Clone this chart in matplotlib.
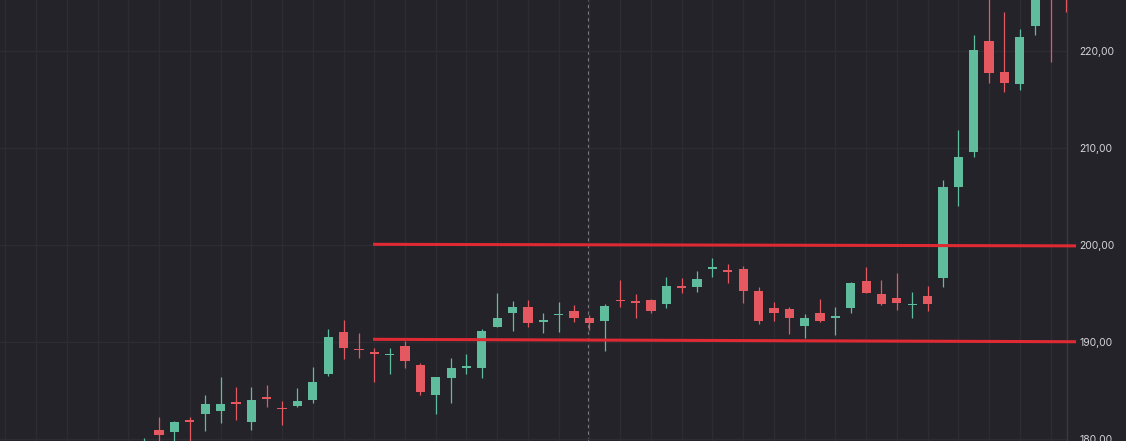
import matplotlib
matplotlib.use('Agg')
import matplotlib.pyplot as plt
import numpy as np
from matplotlib.ticker import FuncFormatter

# candle index -1 .. 59
opens = [179.0, 180.97, 180.79, 181.9, 182.58, 182.92, 183.88, 181.82, 184.36, 183.23,
         183.44, 184.05, 186.73, 191.08, 189.25, 189.02, 188.68, 189.64, 187.65, 184.57,
         186.32, 187.4, 187.38, 191.59, 192.97, 193.59, 192.13, 192.8, 193.21, 192.52,
         192.18, 194.34, 194.24, 194.34, 193.93, 195.83, 195.71, 197.58, 197.43, 197.53,
         195.27, 193.55, 193.42, 191.7, 192.97, 192.54, 193.55, 196.3, 194.96, 194.52,
         193.78, 194.75, 196.57, 206.0, 209.54, 221.02, 217.83, 216.56, 222.53, 228.0,
         228.0]
highs = [180.15, 182.26, 181.9, 182.26, 184.57, 186.45, 185.42, 185.42, 185.6, 183.98,
         185.26, 187.48, 191.33, 192.28, 190.98, 189.37, 189.37, 190.15, 187.83, 186.45,
         188.34, 188.79, 191.33, 195.03, 194.27, 194.34, 192.97, 194.1, 193.83, 192.8,
         193.93, 196.4, 194.93, 194.41, 196.74, 196.64, 197.36, 198.63, 198.01, 197.87,
         195.71, 194.17, 193.65, 192.9, 194.41, 193.59, 196.22, 197.77, 196.4, 197.09,
         195.2, 195.78, 206.69, 211.83, 221.6, 226.5, 224.0, 222.19, 228.0, 229.0,
         229.0]
lows = [178.5, 179.6, 179.7, 179.5, 180.86, 181.66, 182.0, 180.97, 183.3, 181.48,
        183.3, 183.78, 186.55, 188.24, 188.34, 185.94, 186.7, 187.31, 184.57, 182.58,
        183.71, 186.7, 186.35, 191.59, 191.15, 191.59, 190.92, 191.08, 192.11, 191.26,
        189.13, 193.65, 192.52, 192.97, 193.49, 195.03, 195.2, 196.74, 196.06, 194.0,
        191.87, 192.18, 190.84, 190.4, 192.11, 190.74, 192.97, 195.03, 193.83, 193.31,
        192.46, 193.21, 195.65, 204.01, 209.08, 216.7, 215.77, 215.95, 221.6, 218.86,
        224.0]
closes = [179.6, 180.45, 181.82, 181.8, 183.61, 183.61, 183.64, 184.05, 184.21, 183.13,
          183.95, 185.94, 190.57, 189.37, 189.15, 188.76, 188.83, 188.07, 184.85, 186.39,
          187.35, 187.55, 191.15, 192.46, 193.65, 192.0, 192.23, 192.95, 192.52, 192.0,
          193.72, 194.19, 194.08, 193.21, 195.78, 195.58, 196.47, 197.74, 197.27, 195.27,
          192.18, 193.03, 192.46, 192.46, 192.18, 192.7, 196.12, 195.03, 193.9, 194.06,
          193.88, 193.9, 205.94, 209.08, 220.06, 217.73, 216.7, 221.43, 227.0, 226.0,
          226.5]

# horizontal levels drawn on the chart: (start, end) candle index and price
upper_level_x = [13.92, 59.66]
upper_level_y = [200.07, 199.91]
lower_level_x = [13.92, 59.66]
lower_level_y = [190.30, 190.05]

price_ticks = [180, 190, 200, 210, 220]

bg = '#242329'
grid_c = '#2d2c33'
green = '#5fbc9c'
red = '#e6585f'
level_red = '#df2a33'

idx = np.arange(-1, len(opens) - 1)
o = np.array(opens)
c = np.array(closes)
h = np.array(highs)
l = np.array(lows)
up = c >= o
colors = np.where(up, green, red)

fig = plt.figure(figsize=(11.26, 4.41), dpi=100, facecolor=bg)
ax = fig.add_axes([0, 0, 1067 / 1126, 1])
ax.set_facecolor(bg)

ax.set_xlim(-10.35, 59.07)
ax.set_ylim(179.84, 225.2)

# grid
ax.set_xticks(np.arange(-10, 60, 2))
ax.set_yticks(price_ticks)
ax.grid(True, color=grid_c, linewidth=1.0, zorder=0)
ax.tick_params(axis='x', length=0, labelbottom=False)
ax.yaxis.tick_right()
ax.tick_params(axis='y', length=0, pad=9, labelsize=7.5, labelcolor='#d4d4d8')
ax.yaxis.set_major_formatter(FuncFormatter(lambda v, p: f'{v:.2f}'.replace('.', ',')))
for lab in ax.get_yticklabels():
    lab.set_fontfamily('Inter')

for s in ['top', 'bottom', 'left']:
    ax.spines[s].set_visible(False)
ax.spines['right'].set_color('#3a3940')
ax.spines['right'].set_linewidth(1.0)

# crosshair
ax.axvline(27.91, color='#8c8c92', linewidth=0.8, linestyle=(0, (3, 3)), zorder=1)

# candles
ax.vlines(idx, l, h, colors=colors, linewidth=0.9, zorder=3)
body_bottom = np.minimum(o, c)
body_height = np.maximum(np.abs(c - o), 0.15)
ax.bar(idx, body_height, bottom=body_bottom, width=0.6, color=colors,
       linewidth=0, zorder=4)

# levels
ax.plot(upper_level_x, upper_level_y, color=level_red, linewidth=2.2,
        solid_capstyle='butt', zorder=5, clip_on=False)
ax.plot(lower_level_x, lower_level_y, color=level_red, linewidth=2.2,
        solid_capstyle='butt', zorder=5, clip_on=False)

fig.savefig('out.png', dpi=100, facecolor=bg)
plt.close(fig)
